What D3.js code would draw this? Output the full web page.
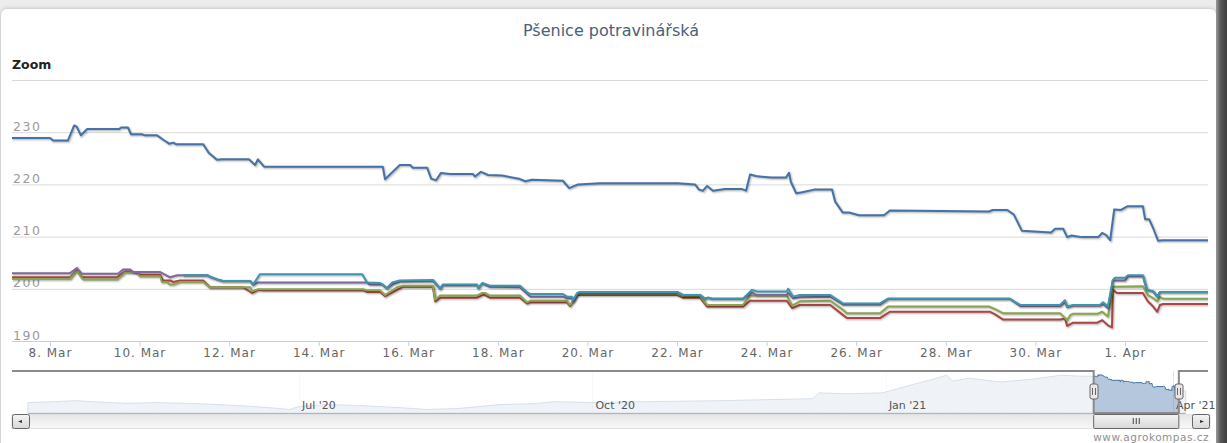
<!DOCTYPE html>
<html>
<head>
<meta charset="utf-8">
<script type="text/javascript" src="https://cdn.jsdelivr.net/npm/d3@7"></script>
<title>Pšenice potravinářská</title>
<style>
body { margin: 0; background: #ececec; overflow: hidden; }
text { font-family: "DejaVu Sans", Verdana, sans-serif; }
</style>
</head>
<body>
<div id="viz"></div>
<script type="text/javascript">

// values: [day of March 2021 (fractional), price]
var seriesColors = ["#4572A7", "#AA4643", "#89A54E", "#80699B", "#3D96AE"];

var blueSeries = [[7.15,228.9],[8.00,228.9],[8.07,228.4],[8.40,228.4],[8.54,231.3],[8.60,231.0],[8.69,229.4],[8.83,230.6],
  [9.54,230.6],[9.59,230.9],[9.74,230.9],[9.81,229.6],[10.05,229.6],[10.12,229.4],[10.39,229.4],[10.52,228.6],[10.66,227.8],
  [10.75,228.0],[10.81,227.7],[11.42,227.7],[11.55,226.0],[11.73,224.7],[11.84,224.8],[12.44,224.8],[12.58,223.7],[12.64,224.8],
  [12.78,223.4],[15.43,223.4],[15.48,221.0],[15.81,223.7],[16.04,223.7],[16.10,223.2],[16.42,223.2],[16.51,221.1],[16.62,220.8],
  [16.73,222.2],[16.93,222.0],[17.44,222.0],[17.49,221.5],[17.62,222.4],[17.78,221.8],[18.09,221.7],[18.47,221.1],[18.61,220.6],
  [18.76,220.9],[19.45,220.7],[19.59,219.3],[19.79,220.0],[20.28,220.2],[22.02,220.2],[22.40,220.0],[22.49,219.0],[22.58,218.8],
  [22.67,219.7],[22.80,218.8],[23.07,219.1],[23.45,219.1],[23.54,218.8],[23.63,221.9],[23.76,221.6],[24.10,221.3],[24.43,221.3],
  [24.50,222.2],[24.54,220.5],[24.66,218.3],[24.79,218.5],[25.06,219.0],[25.46,219.0],[25.53,216.7],[25.70,214.6],[25.84,214.6],
  [26.06,214.1],[26.62,214.1],[26.75,215.0],[28.96,214.8],[29.05,215.1],[29.37,215.1],[29.52,214.2],[29.70,211.1],[30.35,210.8],
  [30.44,211.5],[30.62,211.5],[30.71,209.9],[30.80,210.2],[31.04,209.9],[31.40,209.9],[31.49,210.7],[31.58,210.3],[31.67,209.3],
  [31.76,215.2],[31.91,215.1],[32.05,215.8],[32.40,215.8],[32.45,213.3],[32.54,213.3],[32.63,211.6],[32.74,209.2],[32.83,209.3],
  [33.86,209.3]];

var redSeries = [[7.15,202.2],[8.45,202.2],[8.60,203.5],[8.71,202.2],[9.50,202.2],[9.67,203.3],[9.85,203.3],[10.01,202.7],
  [10.46,202.7],[10.52,201.6],[10.68,201.6],[10.75,201.3],[10.90,201.6],[11.42,201.6],[11.57,200.3],[12.31,200.3],[12.51,199.2],
  [12.64,199.8],[12.76,199.7],[14.99,199.7],[15.08,199.4],[15.37,199.4],[15.48,198.6],[15.75,199.8],[15.88,200.4],[16.55,200.4],
  [16.60,197.6],[16.71,198.3],[17.53,198.3],[17.65,198.8],[17.71,198.8],[17.82,198.3],[18.49,198.3],[18.65,197.2],[18.72,197.4],
  [19.54,197.4],[19.61,196.7],[19.68,197.6],[19.77,198.8],[22.00,198.8],[22.13,198.3],[22.51,198.3],[22.67,196.6],[23.47,196.6],
  [23.63,197.7],[24.45,197.7],[24.57,196.3],[24.74,196.9],[25.42,196.9],[25.70,195.0],[25.79,194.4],[26.53,194.4],[26.75,195.6],
  [28.99,195.6],[29.10,195.1],[29.28,194.1],[30.55,194.1],[30.66,194.3],[30.71,192.9],[30.84,193.5],[31.38,193.5],[31.49,194.0],
  [31.62,193.0],[31.71,192.6],[31.73,199.8],[31.82,199.2],[32.40,199.2],[32.51,197.6],[32.63,196.6],[32.72,195.6],[32.78,196.9],
  [32.85,197.1],[33.86,197.1]];

var greenSeries = [[7.15,201.9],[8.45,201.9],[8.56,203.2],[8.63,203.2],[8.74,201.8],[9.50,201.8],[9.67,203.1],[9.94,203.1],
  [10.01,202.4],[10.46,202.4],[10.50,201.3],[10.61,201.3],[10.68,200.8],[10.75,200.8],[10.90,201.3],[11.42,201.3],[11.57,200.3],
  [12.47,200.3],[12.51,199.5],[12.64,199.9],[14.99,199.9],[15.08,199.7],[15.37,199.7],[15.48,198.8],[15.75,200.3],[15.88,200.6],
  [16.55,200.6],[16.60,197.9],[16.71,198.7],[17.53,198.7],[17.65,199.2],[17.71,199.2],[17.82,198.7],[18.49,198.7],[18.65,197.4],
  [18.72,197.7],[19.54,197.7],[19.61,196.9],[19.68,197.7],[19.77,199.0],[19.83,199.1],[22.00,199.1],[22.13,198.6],[22.51,198.6],
  [22.67,196.9],[23.47,196.9],[23.63,198.7],[24.45,198.7],[24.57,196.8],[24.74,197.6],[25.42,197.7],[25.70,196.0],[25.79,195.3],
  [26.53,195.3],[26.71,196.6],[28.96,196.6],[29.10,196.1],[29.28,195.3],[30.55,195.3],[30.71,194.0],[30.78,195.0],[30.84,195.2],
  [31.38,195.2],[31.49,195.6],[31.62,194.7],[31.73,200.4],[32.40,200.5],[32.51,198.8],[32.63,198.2],[32.72,197.6],[32.78,198.4],
  [32.85,198.1],[33.86,198.1]];

var purpleSeries = [[7.15,203.0],[8.45,203.0],[8.60,204.0],[8.71,202.9],[9.52,202.9],[9.63,203.7],[9.79,203.7],[9.85,203.2],
  [10.46,203.2],[10.68,202.2],[10.84,202.6],[11.51,202.6],[11.57,202.3],[11.73,201.8],[11.86,201.5],[12.47,201.5],[12.53,200.8],
  [12.64,201.2],[15.08,201.2],[15.14,200.8],[15.43,200.8],[15.52,200.1],[15.66,200.9],[15.81,201.4],[16.55,201.5],[16.71,200.0],
  [16.77,200.7],[17.53,200.7],[17.56,200.2],[17.65,201.0],[17.82,200.4],[18.49,200.3],[18.67,198.9],[18.72,198.5],[19.45,198.5],
  [19.54,198.2],[19.65,198.2],[19.68,197.6],[19.77,199.0],[19.83,199.4],[22.00,199.4],[22.13,198.8],[22.51,198.8],[22.62,198.1],
  [22.69,198.3],[22.78,198.1],[23.47,198.1],[23.67,199.3],[23.78,198.8],[24.45,198.8],[24.48,199.2],[24.59,198.2],[24.74,198.4],
  [25.42,198.5],[25.70,197.0],[26.53,197.0],[26.71,198.1],[29.43,198.1],[29.48,197.8],[29.66,196.7],[30.55,196.7],[30.66,197.4],
  [30.71,196.5],[30.84,196.8],[31.44,196.8],[31.51,197.1],[31.62,196.3],[31.73,201.6],[32.00,201.6],[32.07,202.4],[32.40,202.4],
  [32.49,199.8],[32.63,199.5],[32.72,198.5],[32.78,199.4],[33.86,199.4]];

var tealSeries = [[10.97,202.6],[11.51,202.6],[11.57,202.3],[11.73,201.8],[11.86,201.5],[12.47,201.5],[12.53,200.8],[12.69,202.8],
  [14.97,202.8],[15.08,201.2],[15.37,201.1],[15.52,200.1],[15.64,201.2],[15.81,201.6],[16.55,201.7],[16.71,200.1],[16.77,200.8],
  [17.53,200.8],[17.56,200.1],[17.65,201.1],[17.82,200.6],[18.49,200.6],[18.67,199.2],[18.72,199.0],[19.45,199.0],[19.54,198.5],
  [19.65,198.5],[19.68,197.9],[19.77,199.2],[19.83,199.4],[22.00,199.4],[22.13,198.8],[22.51,198.8],[22.62,198.1],[22.69,198.3],
  [22.78,198.1],[23.47,198.1],[23.67,199.8],[23.78,199.5],[24.45,199.5],[24.48,200.0],[24.59,198.5],[24.74,198.8],[25.42,198.8],
  [25.70,197.2],[26.53,197.2],[26.71,198.1],[29.43,198.1],[29.48,197.8],[29.66,196.9],[30.55,196.9],[30.66,197.8],[30.71,196.6],
  [30.84,196.9],[31.44,196.9],[31.51,197.4],[31.62,196.6],[31.73,201.7],[31.78,202.1],[32.00,202.1],[32.07,202.6],[32.40,202.6],
  [32.49,199.8],[32.63,199.5],[32.72,198.5],[32.78,199.4],[33.86,199.4]];

// longer history of the first series, shown in the navigator
var navHistory = [["2020-04-07",193],["2020-04-14",194],["2020-04-22",195.6],["2020-04-28",194],["2020-05-08",192],
  ["2020-05-17",193],["2020-05-30",191.6],["2020-06-12",189],["2020-06-21",186.3],["2020-06-28",183.6],["2020-07-01",187.6],
  ["2020-07-10",190.3],["2020-07-20",189],["2020-08-01",186.3],["2020-08-10",183.6],["2020-08-20",185],["2020-09-02",190.3],
  ["2020-09-13",191.6],["2020-09-19",194.3],["2020-10-01",193],["2020-10-19",194.3],["2020-11-10",195.6],["2020-12-09",198.3],
  ["2020-12-11",206.3],["2020-12-20",205],["2020-12-31",206.3],["2021-01-10",218.3],["2021-01-16",225],["2021-01-20",230.3],
  ["2021-01-22",222.3],["2021-01-27",226.3],["2021-02-06",221],["2021-02-16",225],["2021-02-25",230.3],["2021-03-03",229]];
var navTail = [["2021-04-05",209.3]];

var yTicks = [190, 200, 210, 220, 230, 240];
var xTicks = ["2021-03-08","2021-03-10","2021-03-12","2021-03-14","2021-03-16","2021-03-18","2021-03-20",
  "2021-03-22","2021-03-24","2021-03-26","2021-03-28","2021-03-30","2021-04-01"];
var navTicks = ["2020-07-01","2020-10-01","2021-01-01","2021-04-01"];

var viewStart = new Date("2021-03-07T03:40:00Z"), viewEnd = new Date("2021-04-02T20:30:00Z");
var navStart = new Date("2020-04-02T00:00:00Z"), navEnd = new Date("2021-04-12T00:00:00Z");

function marchDay(d) { return new Date(Date.UTC(2021, 2, 1) + (d - 1) * 864e5); }
function isoDay(s) { return new Date(s + "T00:00:00Z"); }

var W = 1227, H = 443;
var plotLeft = 12, plotRight = 1208, plotTop = 80, plotBottom = 341;
var navTop = 371, navBottom = 413;

var svg = d3.select("#viz").append("svg").attr("width", W).attr("height", H);

var defs = svg.append("defs");
var shadow = defs.append("filter").attr("id", "shadow").attr("x", "-5%").attr("y", "-5%").attr("width", "110%").attr("height", "110%");
shadow.append("feDropShadow").attr("dx", 0).attr("dy", 0).attr("stdDeviation", 2).attr("flood-color", "#000").attr("flood-opacity", 0.25);
var bandGrad = defs.append("linearGradient").attr("id", "band").attr("x1", 0).attr("x2", 1).attr("y1", 0).attr("y2", 0);
bandGrad.append("stop").attr("offset", 0).attr("stop-color", "#9a9a9a");
bandGrad.append("stop").attr("offset", 0.4).attr("stop-color", "#5a5a5a");
bandGrad.append("stop").attr("offset", 1).attr("stop-color", "#3c3c3c");
var btnGrad = defs.append("linearGradient").attr("id", "btn").attr("x1", 0).attr("x2", 0).attr("y1", 0).attr("y2", 1);
btnGrad.append("stop").attr("offset", 0).attr("stop-color", "#f4f4f4");
btnGrad.append("stop").attr("offset", 1).attr("stop-color", "#d8d8d8");
var trackGrad = defs.append("linearGradient").attr("id", "track").attr("x1", 0).attr("x2", 0).attr("y1", 0).attr("y2", 1);
trackGrad.append("stop").attr("offset", 0).attr("stop-color", "#e6e6e6");
trackGrad.append("stop").attr("offset", 1).attr("stop-color", "#f8f8f8");
defs.append("clipPath").attr("id", "plotClip").append("rect")
    .attr("x", plotLeft).attr("y", plotTop - 5).attr("width", plotRight - plotLeft).attr("height", plotBottom - plotTop + 10);

// page background and chart box
svg.append("rect").attr("width", W).attr("height", H).attr("fill", "#ececec");
svg.append("rect").attr("x", 1).attr("y", 9).attr("width", 1215).attr("height", 445).attr("rx", 6)
    .attr("fill", "#fff").attr("filter", "url(#shadow)");

svg.append("text").attr("x", 611).attr("y", 36).attr("text-anchor", "middle")
    .attr("fill", "#4a6079").style("font-size", "16px").text("Pšenice potravinářská");
svg.append("text").attr("x", 12).attr("y", 69).attr("fill", "#222")
    .style("font-size", "12.5px").style("font-weight", "bold").text("Zoom");

var x = d3.scaleUtc().domain([viewStart, viewEnd]).range([plotLeft, plotRight]);
var y = d3.scaleLinear().domain([190, 240]).range([plotBottom, plotTop]);

// y grid + labels
svg.append("g").attr("transform", "translate(" + plotLeft + ",0)")
    .call(d3.axisRight(y).tickValues(yTicks).tickSize(plotRight - plotLeft)
        .tickFormat(function(d){ return d === 240 ? "" : d; }))
    .call(function(g){
        g.select(".domain").remove();
        g.selectAll(".tick line").attr("stroke", "#d9d9d9");
        g.selectAll(".tick text").attr("x", 1).attr("dy", -2).attr("text-anchor", "start")
            .attr("fill", "#9a9a9a").style("font-size", "12.5px").style("letter-spacing", "1.5px")
            .style("font-family", "DejaVu Sans, sans-serif");
    });

var line = d3.line()
    .x(function(d){ return x(marchDay(d[0])); })
    .y(function(d){ return y(d[1]); });

var allSeries = [blueSeries, redSeries, greenSeries, purpleSeries, tealSeries];
var seriesG = svg.append("g").attr("clip-path", "url(#plotClip)")
    .selectAll("g.series")
    .data(allSeries)
    .enter().append("g")
    .attr("class", "series");

// soft offset shadow under each line
[1, 2, 3].forEach(function(i){
    seriesG.append("path")
        .attr("fill", "none")
        .attr("stroke", "#000")
        .attr("stroke-opacity", 0.05 * i)
        .attr("stroke-width", 7 - 2 * i)
        .attr("stroke-linejoin", "round")
        .attr("transform", "translate(1,1)")
        .attr("d", line);
});
seriesG.append("path")
    .attr("fill", "none")
    .attr("stroke", function(d, i){ return seriesColors[i]; })
    .attr("stroke-width", 2)
    .attr("stroke-linejoin", "round")
    .attr("d", line);

// x axis
var fmtDay = d3.utcFormat("%-d. %b");
svg.append("g").attr("transform", "translate(0," + plotBottom + ")")
    .call(d3.axisBottom(x).tickValues(xTicks.map(isoDay))
        .tickSize(5).tickPadding(2).tickFormat(fmtDay))
    .call(function(g){
        g.select(".domain").attr("stroke", "#c0d0e0").attr("d", "M" + plotLeft + ",0.5H" + plotRight);
        g.selectAll(".tick line").attr("stroke", "#c0d0e0");
        g.selectAll(".tick text").attr("fill", "#666").style("font-size", "12px").style("letter-spacing", "1px")
            .style("font-family", "DejaVu Sans, sans-serif");
    });

// navigator
var nx = d3.scaleUtc().domain([navStart, navEnd]).range([plotLeft, plotRight]);
var navData = navHistory.map(function(d){ return [isoDay(d[0]), d[1]]; })
    .concat(blueSeries.map(function(d){ return [marchDay(d[0]), d[1]]; }))
    .concat(navTail.map(function(d){ return [isoDay(d[0]), d[1]]; }));
var nMin = d3.min(navData, function(d){ return d[1]; }), nMax = d3.max(navData, function(d){ return d[1]; });
var nPad = (nMax - nMin) * 0.1;
var ny = d3.scaleLinear().domain([nMin - nPad, nMax + nPad]).range([navBottom, navTop]);

var nav = svg.append("g");
nav.selectAll("line.ngrid").data(navTicks).enter().append("line")
    .attr("x1", function(d){ return Math.round(nx(isoDay(d))) + 0.5; })
    .attr("x2", function(d){ return Math.round(nx(isoDay(d))) + 0.5; })
    .attr("y1", navTop).attr("y2", navBottom).attr("stroke", "#e4e4e4");

nav.append("path").datum(navData)
    .attr("fill", "#4572A7").attr("fill-opacity", 0.4)
    .attr("stroke", "#4572A7").attr("stroke-width", 1)
    .attr("d", d3.area().x(function(d){ return nx(d[0]); }).y0(navBottom).y1(function(d){ return ny(d[1]); }));

var selL = nx(viewStart), selR = nx(viewEnd);
nav.append("rect").attr("x", plotLeft).attr("y", navTop).attr("width", selL - plotLeft).attr("height", navBottom - navTop)
    .attr("fill", "#fff").attr("fill-opacity", 0.78);
nav.append("rect").attr("x", selR).attr("y", navTop).attr("width", plotRight + 6 - selR).attr("height", navBottom - navTop)
    .attr("fill", "#fff").attr("fill-opacity", 0.78);

var fmtMonth = d3.utcFormat("%b '%y");
nav.selectAll("text.nlabel").data(navTicks).enter().append("text")
    .attr("x", function(d){ return nx(isoDay(d)) + 3; })
    .attr("y", 409).attr("fill", "#555").style("font-size", "11px")
    .text(function(d){ return fmtMonth(isoDay(d)); });

nav.append("path")
    .attr("d", "M" + plotLeft + "," + navTop + "H" + selL + "V" + navBottom + "H" + selR + "V" + navTop + "H" + plotRight)
    .attr("fill", "none").attr("stroke", "#8a8a8a").attr("stroke-width", 2);

// handles
[selL, selR].forEach(function(hx){
    var h = nav.append("g").attr("transform", "translate(" + Math.round(hx) + ",384)");
    h.append("rect").attr("x", -4).attr("y", 0).attr("width", 8).attr("height", 15).attr("rx", 2)
        .attr("fill", "#ebe7e8").attr("stroke", "#666");
    h.append("path").attr("d", "M-1.5,4V11M1.5,4V11").attr("stroke", "#666");
});

// scrollbar
var sb = svg.append("g").attr("transform", "translate(0,414)");
sb.append("rect").attr("x", plotLeft).attr("y", 0.5).attr("width", 1198).attr("height", 14).attr("fill", "url(#track)")
    .attr("stroke", "#e0e0e0");
sb.append("rect").attr("x", selL).attr("y", 0.5).attr("width", selR - selL).attr("height", 14).attr("rx", 1)
    .attr("fill", "url(#btn)").attr("stroke", "#666");
var mid = (selL + selR) / 2;
sb.append("path").attr("d", "M" + (mid - 3) + ",4V10M" + mid + ",4V10M" + (mid + 3) + ",4V10").attr("stroke", "#444");
[[plotLeft, "M22,6L18,7.5L22,9Z"], [1192, "M1200,6L1204,7.5L1200,9Z"]].forEach(function(b){
    sb.append("rect").attr("x", b[0] + 0.5).attr("y", 0.5).attr("width", 17).attr("height", 14).attr("rx", 2)
        .attr("fill", "url(#btn)").attr("stroke", "#666");
    sb.append("path").attr("d", b[1]).attr("fill", "#333");
});

svg.append("text").attr("x", 1209).attr("y", 441).attr("text-anchor", "end").attr("fill", "#909090")
    .style("font-size", "10.5px").style("letter-spacing", "0.5px").text("www.agrokompas.cz");

// dark band on the right edge of the page
svg.append("rect").attr("x", 1216).attr("y", 0).attr("width", W - 1216).attr("height", H).attr("fill", "url(#band)");

</script>
</body>
</html>
